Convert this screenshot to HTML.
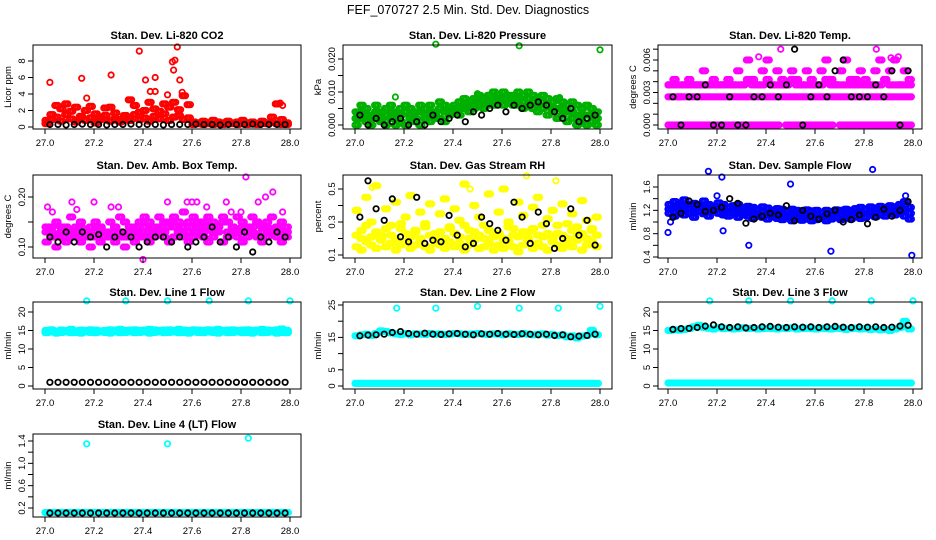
<!DOCTYPE html>
<html><head><meta charset="utf-8"><style>
body{margin:0;background:#fff;}
svg{display:block;font-family:"Liberation Sans",sans-serif;}
</style></head><body>
<svg id="chart" width="936" height="540" viewBox="0 0 936 540">
<text x="468" y="14" text-anchor="middle" font-size="12.5">FEF_070727  2.5 Min. Std. Dev. Diagnostics</text>
</svg>
<script>
// ---------- DATA ----------
const xTicks = [27.0, 27.2, 27.4, 27.6, 27.8, 28.0];
const xTickLabels = ["27.0","27.2","27.4","27.6","27.8","28.0"];
const panelTitles = ["Stan. Dev. Li-820 CO2","Stan. Dev. Li-820 Pressure","Stan. Dev. Li-820 Temp.","Stan. Dev. Amb. Box Temp.","Stan. Dev. Gas Stream RH","Stan. Dev. Sample Flow","Stan. Dev. Line 1 Flow","Stan. Dev. Line 2 Flow","Stan. Dev. Line 3 Flow","Stan. Dev. Line 4 (LT) Flow"];
const yTitles = ["Licor ppm","kPa","degrees C","degrees C","percent","ml/min","ml/min","ml/min","ml/min","ml/min"];

// CO2
const co2A = [0.8,1.5,2.6,2.2,2.8,1.9,2.4,1.2,2.0,2.5,1.6,1.1,2.3,2.4,1.7,0.9,1.4,3.3,2.6,1.8,2.0,3.0,2.2,1.9,2.8,2.4,3.0,2.1,3.8,2.7,0.6,0.5,0.7,0.4,0.8,0.6,0.5,0.7,0.4,0.6,0.8,0.5,0.6,0.4,0.7,0.5,1.2,2.8,0.9,0.5];
const co2B = [0.4,0.9,1.2,0.7,1.5,1.0,0.6,1.3,0.8,1.1,0.5,0.9,1.4,0.7,1.0,0.6,1.2,0.8,1.5,0.9,1.1,0.7,1.3,1.0,1.6,0.8,1.2,1.4,0.9,1.1,0.3,0.4,0.3,0.5,0.3,0.4,0.3,0.4,0.5,0.3,0.4,0.3,0.4,0.3,0.5,0.4,0.6,0.4,0.3,0.3];
const co2OutX = [27.02,27.15,27.17,27.27,27.385,27.41,27.45,27.5,27.52,27.525,27.53,27.54,27.55,27.56,27.45,27.43,27.96,27.97];
const co2OutY = [5.4,5.9,3.5,6.3,9.2,5.7,6.0,3.9,7.9,6.9,8.1,9.7,5.7,4.2,4.3,4.3,2.9,2.6];
const co2Blk = [0.3,0.3,0.25,0.3,0.35,0.3,0.3,0.25,0.3,0.3,0.35,0.3,0.3,0.3,0.25,0.3,0.3,0.3,0.35,0.3,0.3,0.25,0.3,0.3,0.3,0.35,0.3,0.3,0.3,0.3];

// Pressure
const presA = [0.004,0.006,0.005,0.003,0.006,0.004,0.005,0.006,0.004,0.005,0.006,0.005,0.004,0.006,0.005,0.006,0.004,0.007,0.006,0.005,0.006,0.007,0.008,0.007,0.008,0.009,0.008,0.009,0.010,0.009,0.010,0.009,0.009,0.010,0.009,0.010,0.009,0.008,0.009,0.008,0.007,0.008,0.007,0.006,0.007,0.006,0.005,0.006,0.005,0.004];
const presB = [0.000,0.002,0.001,0.000,0.002,0.001,0.000,0.002,0.000,0.001,0.000,0.002,0.001,0.000,0.002,0.001,0.003,0.002,0.001,0.003,0.004,0.003,0.005,0.004,0.005,0.006,0.005,0.006,0.006,0.007,0.006,0.007,0.006,0.006,0.005,0.006,0.005,0.004,0.005,0.003,0.004,0.002,0.003,0.001,0.002,0.000,0.001,0.000,0.001,0.000];
const presC = [0.002,0.004,0.003,0.002,0.004,0.002,0.003,0.004,0.002,0.003,0.004,0.003,0.002,0.004,0.003,0.004,0.002,0.005,0.004,0.004,0.005,0.005,0.006,0.006,0.007,0.007,0.007,0.008,0.008,0.008,0.008,0.008,0.008,0.008,0.007,0.008,0.007,0.006,0.007,0.006,0.005,0.005,0.005,0.004,0.004,0.003,0.003,0.003,0.003,0.002];
const presOutX = [27.165,27.33,27.5,27.67,27.835,28.0];
const presOutY = [0.0085,0.0245,0.0095,0.0240,0.0083,0.0228];
const presBlk = [0.003,0.0,0.002,0.0,0.001,0.002,0.0,0.001,0.0,0.003,0.001,0.002,0.003,0.001,0.004,0.003,0.005,0.006,0.004,0.006,0.005,0.006,0.007,0.006,0.004,0.002,0.005,0.001,0.002,0.003];

// Li-820 Temp
const tempA = [0.0026,0.0026,0.0026,0.0026,0.0026,0.0026,0.0026,0.0026,0.0026,0.0026,0.0026,0.0026,0.0026,0.0026,0.0026,0.0026,0.0026,0.0026,0.0026,0.0026,0.0026,0.0026,0.0026,0.0026,0.0026,0.0026,0.0026,0.0026,0.0026,0.0026,0.0026,0.0026,0.0026,0.0026,0.0026,0.0026,0.0026,0.0026,0.0026,0.0026,0.0026,0.0026,0.0026,0.0026,0.0026,0.0026,0.0026,0.0026,0.0026,0.0026];
const tempB = [0,0,0,0,0,0,0,0,0,0,0,0,0,0,0,0,0,0,0,0,0,0,0,0.0037,0,0,0,0,0,0,0,0,0,0,0.0037,0,0,0,0,0,0,0,0,0,0,0,0,0,0,0];
const tempC = [0.0037,0.0042,0.0037,0.0037,0.0042,0.0037,0.0037,0.005,0.0037,0.0042,0.0037,0.0037,0.0042,0.0037,0.005,0.0037,0.006,0.0042,0.0037,0.005,0.006,0.0037,0.005,0.0042,0.0037,0.005,0.0042,0.0037,0.005,0.0042,0.0037,0.005,0.006,0.0042,0.0037,0.005,0.006,0.0042,0.0037,0.005,0.0042,0.0037,0.005,0.006,0.0042,0.005,0.006,0.0037,0.005,0.0042];
const tempD = [0.0037,0.0037,0.0026,0.0037,0.0037,0.0037,0.0037,0.0037,0.0037,0.0037,0.0037,0.0037,0.0037,0.0037,0.0037,0.0037,0.0042,0.0037,0.0037,0.0037,0.0042,0.0037,0.0037,0.0037,0.0037,0.0042,0.0037,0.0037,0.0037,0.0037,0.0037,0.0037,0.0042,0.0037,0.0037,0.0037,0.0037,0.0037,0.0042,0.0037,0.0037,0.0037,0.0037,0.0037,0.0042,0.0037,0.0037,0.0037,0.0037,0.0037];
const tempOutX = [27.46,27.85,27.37,27.91,27.94];
const tempOutY = [0.0070,0.0070,0.0063,0.0062,0.0063];
const tempBlk = [0.0026,0,0.0026,0.0026,0.0037,0,0,0.0026,0,0,0.0026,0.0026,0.0037,0.0026,0.0037,0.0070,0,0.0026,0.0037,0.0026,0.0050,0.0060,0.0026,0.0026,0.0026,0.0037,0.0026,0.0050,0,0.0050];

// Amb Box Temp
const boxA = [0.14,0.13,0.15,0.14,0.13,0.16,0.14,0.15,0.13,0.14,0.15,0.14,0.13,0.15,0.14,0.16,0.15,0.14,0.13,0.15,0.16,0.15,0.14,0.16,0.15,0.14,0.16,0.15,0.17,0.15,0.16,0.14,0.15,0.16,0.15,0.14,0.16,0.15,0.14,0.16,0.15,0.14,0.16,0.15,0.14,0.15,0.16,0.14,0.15,0.14];
const boxB = [0.11,0.12,0.10,0.12,0.11,0.12,0.13,0.11,0.12,0.10,0.12,0.11,0.13,0.12,0.11,0.12,0.10,0.12,0.11,0.13,0.12,0.11,0.12,0.13,0.12,0.11,0.12,0.13,0.12,0.11,0.12,0.13,0.12,0.11,0.12,0.13,0.11,0.12,0.13,0.12,0.11,0.12,0.13,0.12,0.11,0.12,0.13,0.12,0.11,0.12];
const boxC = [0.13,0.14,0.12,0.13,0.14,0.13,0.12,0.14,0.13,0.12,0.13,0.14,0.12,0.13,0.14,0.13,0.12,0.13,0.14,0.12,0.14,0.13,0.13,0.14,0.13,0.15,0.14,0.13,0.14,0.13,0.14,0.15,0.13,0.14,0.13,0.14,0.15,0.13,0.14,0.13,0.14,0.13,0.14,0.15,0.13,0.14,0.13,0.14,0.13,0.13];
const boxOutX = [27.01,27.03,27.11,27.13,27.2,27.27,27.3,27.5,27.58,27.6,27.62,27.66,27.74,27.76,27.82,27.87,27.9,27.93,27.97,27.4,27.8];
const boxOutY = [0.18,0.17,0.19,0.175,0.19,0.18,0.18,0.19,0.19,0.19,0.19,0.18,0.19,0.17,0.24,0.19,0.2,0.21,0.17,0.075,0.17];
const boxBlk = [0.12,0.11,0.13,0.11,0.13,0.12,0.125,0.10,0.12,0.13,0.12,0.10,0.11,0.12,0.12,0.11,0.12,0.10,0.11,0.12,0.14,0.11,0.12,0.10,0.13,0.09,0.12,0.11,0.13,0.12];

// RH
const rhA = [0.15,0.13,0.18,0.16,0.14,0.19,0.15,0.17,0.13,0.16,0.18,0.14,0.16,0.19,0.15,0.13,0.17,0.16,0.14,0.18,0.15,0.17,0.13,0.16,0.19,0.14,0.15,0.17,0.13,0.16,0.14,0.18,0.15,0.12,0.16,0.19,0.14,0.17,0.15,0.13,0.18,0.16,0.14,0.17,0.15,0.19,0.13,0.16,0.18,0.15];
const rhB = [0.37,0.25,0.45,0.3,0.52,0.22,0.38,0.28,0.42,0.26,0.33,0.46,0.24,0.36,0.29,0.41,0.23,0.35,0.44,0.27,0.38,0.31,0.53,0.25,0.4,0.33,0.28,0.47,0.22,0.36,0.5,0.3,0.26,0.42,0.34,0.24,0.39,0.45,0.28,0.32,0.37,0.23,0.41,0.29,0.35,0.27,0.43,0.31,0.25,0.33];
const rhC = [0.22,0.2,0.28,0.21,0.24,0.2,0.26,0.22,0.2,0.29,0.23,0.21,0.25,0.2,0.27,0.22,0.21,0.24,0.2,0.26,0.23,0.21,0.28,0.2,0.24,0.22,0.2,0.25,0.21,0.23,0.2,0.27,0.22,0.21,0.24,0.2,0.26,0.22,0.21,0.23,0.2,0.28,0.22,0.2,0.25,0.21,0.23,0.2,0.26,0.22];
const rhOutX = [27.7,27.82,27.47,27.07];
const rhOutY = [0.58,0.55,0.5,0.51];
const rhBlk = [0.33,0.55,0.38,0.31,0.44,0.21,0.18,0.45,0.17,0.19,0.18,0.34,0.22,0.15,0.17,0.33,0.29,0.25,0.19,0.42,0.33,0.17,0.36,0.29,0.14,0.2,0.38,0.22,0.31,0.16];

// Sample Flow
const flowA = [1.3,1.35,1.25,1.38,1.3,1.32,1.28,1.36,1.3,1.27,1.33,1.3,1.25,1.28,1.3,1.24,1.27,1.25,1.22,1.26,1.24,1.2,1.23,1.22,1.19,1.22,1.2,1.18,1.21,1.19,1.2,1.17,1.2,1.18,1.21,1.2,1.22,1.2,1.23,1.25,1.22,1.26,1.24,1.27,1.25,1.28,1.26,1.3,1.35,1.25];
const flowB = [1.15,1.1,1.2,1.12,1.16,1.08,1.18,1.14,1.1,1.2,1.15,1.12,1.1,1.16,1.08,1.12,1.1,1.06,1.1,1.08,1.05,1.1,1.06,1.04,1.08,1.02,1.06,1.03,1.05,1.02,1.04,1.06,1.02,1.05,1.08,1.04,1.07,1.05,1.1,1.06,1.08,1.12,1.09,1.12,1.1,1.15,1.12,1.16,1.1,1.05];
const flowC = [1.22,1.24,1.3,1.26,1.22,1.2,1.25,1.28,1.2,1.24,1.22,1.2,1.18,1.22,1.2,1.18,1.17,1.16,1.15,1.17,1.14,1.15,1.13,1.14,1.12,1.13,1.12,1.1,1.12,1.11,1.12,1.1,1.12,1.11,1.14,1.12,1.14,1.12,1.16,1.15,1.15,1.18,1.16,1.2,1.18,1.22,1.2,1.24,1.22,1.15];
const flowOutX = [27.0,27.01,27.165,27.22,27.225,27.33,27.5,27.665,27.835,27.995,27.2,27.97];
const flowOutY = [0.82,1.0,1.87,1.77,0.85,0.6,1.65,0.5,1.9,0.43,1.45,1.45];
const flowBlk = [1.08,1.15,1.36,1.3,1.18,1.2,1.25,1.4,1.32,0.98,1.05,1.1,1.15,1.12,1.28,1.02,1.2,1.1,1.05,1.14,1.2,1.0,1.04,1.12,0.97,1.08,1.22,1.1,1.2,1.35];

// Line 1 Flow
const l1A = [15,15.2,14.8,15.1,15,15.3,14.9,15.1,15,15.2,15.1,14.9,15,15.2,15.1,15.3,15,15.1,15.2,15,15.1,15.3,15.2,15,15.1,15.2,15,15.3,15.1,15,15.2,15.1,15,15.2,15.1,15.3,15,15.1,15.2,15,15.1,15.2,15,15.1,15.3,15.1,15,15.2,15.4,15];
const l1B = [14.4,14.6,14.3,14.5,14.6,14.4,14.5,14.3,14.6,14.5,14.4,14.6,14.5,14.3,14.6,14.4,14.5,14.6,14.4,14.5,14.6,14.3,14.5,14.6,14.4,14.5,14.6,14.4,14.5,14.3,14.6,14.5,14.4,14.6,14.5,14.3,14.6,14.4,14.5,14.6,14.4,14.5,14.3,14.6,14.4,14.5,14.6,14.3,14.5,14.4];
const l1OutX = [27.17,27.33,27.5,27.67,27.83,28.0];
const l1OutY = [23,23,23,23,23,23];
const l1Blk = [1,1,1,1,1,1,1,1,1,1,1,1,1,1,1,1,1,1,1,1,1,1,1,1,1,1,1,1,1,1];

// Line 2 Flow
const l2A = [0.8,0.8,0.8,0.8,0.8,0.8,0.8,0.8,0.8,0.8,0.8,0.8,0.8,0.8,0.8,0.8,0.8,0.8,0.8,0.8,0.8,0.8,0.8,0.8,0.8,0.8,0.8,0.8,0.8,0.8,0.8,0.8,0.8,0.8,0.8,0.8,0.8,0.8,0.8,0.8,0.8,0.8,0.8,0.8,0.8,0.8,0.8,0.8,0.8,0.8];
const l2B = [15.5,15.8,16,15.6,16.2,17,16.8,16.4,16.1,15.9,16.2,15.8,16.1,16,15.9,16.2,16,16.1,15.9,16,16.2,16.1,15.9,16,16.1,16.2,16,15.9,16.1,16,15.8,16.1,16,15.9,16.2,16,15.8,16,16.1,15.7,15.9,15.6,15.8,15.2,15.5,14.8,15.4,15.6,17.2,15.8];
const l2OutX = [27.17,27.33,27.5,27.67,27.83,28.0];
const l2OutY = [24,24,24.6,24,24,24.6];
const l2Blk = [15.5,15.7,15.8,16,16.5,16.8,16.2,16,16.3,16,15.9,16.1,16.2,16,15.8,16.1,16,16.2,16,15.9,16.1,16,15.8,16,15.6,15.8,15.2,15.4,15.6,16];

// Line 3 Flow
const l3A = [0.8,0.8,0.8,0.8,0.8,0.8,0.8,0.8,0.8,0.8,0.8,0.8,0.8,0.8,0.8,0.8,0.8,0.8,0.8,0.8,0.8,0.8,0.8,0.8,0.8,0.8,0.8,0.8,0.8,0.8,0.8,0.8,0.8,0.8,0.8,0.8,0.8,0.8,0.8,0.8,0.8,0.8,0.8,0.8,0.8,0.8,0.8,0.8,0.8,0.8];
const l3B = [15,15.2,15.1,15.3,15.5,16,16.4,15.8,15.6,15.4,15.8,15.5,15.6,15.4,15.5,15.7,15.5,15.6,15.4,15.5,15.6,15.5,15.4,15.6,15.5,15.7,15.4,15.5,15.6,15.5,15.4,15.6,15.5,15.4,15.6,15.5,15.3,15.5,15.6,15.4,15.5,15.3,15.4,15.2,15.3,15,15.4,15.8,17.5,15.4];
const l3OutX = [27.17,27.33,27.5,27.67,27.83,28.0];
const l3OutY = [23,23,23,23,23,23];
const l3Blk = [15.3,15.5,15.6,15.8,16.2,16.5,16,15.8,16,15.7,15.8,16,16.1,15.9,15.8,16,15.9,16,15.8,16,16.1,15.9,15.8,16,15.9,16,15.8,15.9,16.2,16.4];

// Line 4 Flow
const l4A = [0.12,0.12,0.12,0.12,0.12,0.12,0.12,0.12,0.12,0.12,0.12,0.12,0.12,0.12,0.12,0.12,0.12,0.12,0.12,0.12,0.12,0.12,0.12,0.12,0.12,0.12,0.12,0.12,0.12,0.12,0.12,0.12,0.12,0.12,0.12,0.12,0.12,0.12,0.12,0.12,0.12,0.12,0.12,0.12,0.12,0.12,0.12,0.12,0.12,0.12];
const l4OutX = [27.17,27.5,27.83];
const l4OutY = [1.35,1.35,1.45];
const l4Blk = [0.11,0.11,0.11,0.11,0.11,0.11,0.11,0.11,0.11,0.11,0.11,0.11,0.11,0.11,0.11,0.11,0.11,0.11,0.11,0.11,0.11,0.11,0.11,0.11,0.11,0.11,0.11,0.11,0.11,0.11];

// y-axis ticks / labels
const yTicks = [[0,2,4,6,8],[0,0.005,0.01,0.015,0.02],[0,0.001,0.002,0.003,0.004,0.005,0.006,0.007],[0.1,0.15,0.2],[0.1,0.2,0.3,0.4,0.5],[0.4,0.6,0.8,1.0,1.2,1.4,1.6],[0,5,10,15,20],[0,5,10,15,20,25],[0,5,10,15,20],[0.2,0.4,0.6,0.8,1.0,1.2,1.4]];
const yTickLabels = [["0","2","4","6","8"],["0.000","","0.010","","0.020"],["0.000","","","0.003","","","0.006",""],["0.10","","0.20"],["0.1","","0.3","","0.5"],["0.4","","0.8","","1.2","","1.6"],["0","5","10","15","20"],["0","5","","15","","25"],["0","5","10","15","20"],["0.2","","0.6","","1.0","","1.4"]];

// ---------- LAYOUT (not data) ----------
const cols = [{l:33,r:301,x0:45,x1:290},{l:343,r:612,x0:355,x1:600},{l:658,r:922,x0:668,x1:913}];
const rows = [{t:45,b:129},{t:175,b:258},{t:302,b:389},{t:434,b:517}];
const yCal = [[0,127,8,61],[0,125,0.02,59],[0,125,0.006,60],[0.1,247,0.2,197],[0.1,255,0.5,189],[0.4,257,1.6,187],[0,386,20,312],[0,386,25,305],[0,386,20,312],[0.2,508,1.4,441]];

const panels = [
 {series:[[co2A,'red'],[co2B,'red']], outX:co2OutX, outY:co2OutY, outC:'red', blk:co2Blk},
 {series:[[presA,'#00b000'],[presB,'#00b000'],[presC,'#00b000']], outX:presOutX, outY:presOutY, outC:'#00b000', blk:presBlk},
 {series:[[tempA,'magenta'],[tempB,'magenta'],[tempC,'magenta'],[tempD,'magenta']], outX:tempOutX, outY:tempOutY, outC:'magenta', blk:tempBlk},
 {series:[[boxA,'magenta'],[boxB,'magenta'],[boxC,'magenta']], outX:boxOutX, outY:boxOutY, outC:'magenta', blk:boxBlk},
 {series:[[rhA,'yellow'],[rhB,'yellow'],[rhC,'yellow']], outX:rhOutX, outY:rhOutY, outC:'yellow', blk:rhBlk},
 {series:[[flowA,'blue'],[flowB,'blue'],[flowC,'blue']], outX:flowOutX, outY:flowOutY, outC:'blue', blk:flowBlk},
 {series:[[l1A,'cyan'],[l1B,'cyan']], outX:l1OutX, outY:l1OutY, outC:'cyan', blk:l1Blk},
 {series:[[l2A,'cyan'],[l2B,'cyan']], outX:l2OutX, outY:l2OutY, outC:'cyan', blk:l2Blk},
 {series:[[l3A,'cyan'],[l3B,'cyan']], outX:l3OutX, outY:l3OutY, outC:'cyan', blk:l3Blk},
 {series:[[l4A,'cyan']], outX:l4OutX, outY:l4OutY, outC:'cyan', blk:l4Blk}
];

const NS = 'http://www.w3.org/2000/svg';
const svg = document.getElementById('chart');
function mk(tag, attrs, parent){
  const e = document.createElementNS(NS, tag);
  for (const k in attrs) e.setAttribute(k, attrs[k]);
  (parent||svg).appendChild(e);
  return e;
}
function circ(g, cx, cy, color){
  const c = mk('circle', {cx:cx.toFixed(1), cy:cy.toFixed(1), r:2.7, fill:'none', stroke:color, 'stroke-width':1.8}, g);
  
  
}

panels.forEach((p, i) => {
  const col = cols[i % 3], row = rows[Math.floor(i / 3)];
  const cal = yCal[i];
  const xs = v => col.x0 + (v - 27) * (col.x1 - col.x0);
  const ys = v => cal[1] + (v - cal[0]) * (cal[3] - cal[1]) / (cal[2] - cal[0]);
  const g = mk('g', {});
  
  

  const title = mk('text', {x:(col.l + col.r) / 2, y:row.t - 6, 'text-anchor':'middle', 'font-size':11, 'font-weight':'bold'}, g);
  title.textContent = panelTitles[i];
  
  

  const pts = mk('g', {}, g);
  
  
  p.series.forEach(([arr, color]) => {
    const n = arr.length;
    const step = 1 / n;
    arr.forEach((v, k) => {
      for (let s = 0; s < 3; s++) {
        circ(pts, xs(27 + step * (k + s / 3)), ys(v), color);
      }
    });
  });
  p.outX.forEach((x, k) => circ(pts, xs(x), ys(p.outY[k]), p.outC));
  p.blk.forEach((v, k) => circ(pts, xs(27.02 + 0.96 * k / (p.blk.length - 1)), ys(v), '#000'));

  const box = mk('rect', {x:col.l, y:row.t, width:col.r - col.l, height:row.b - row.t, fill:'none', stroke:'#000', 'stroke-width':1}, g);
  
  

  const xa = mk('g', {}, g);
  
  
  mk('line', {x1:xs(xTicks[0]), x2:xs(xTicks[xTicks.length - 1]), y1:row.b, y2:row.b, stroke:'#000'}, xa);
  xTicks.forEach((t, k) => {
    mk('line', {x1:xs(t), x2:xs(t), y1:row.b, y2:row.b + 5, stroke:'#000'}, xa);
    const tl = mk('text', {x:xs(t), y:row.b + 17, 'text-anchor':'middle', 'font-size':9.5}, xa);
    tl.textContent = xTickLabels[k];
    
    
  });

  const ya = mk('g', {}, g);
  
  
  const yt = yTicks[i];
  mk('line', {x1:col.l, x2:col.l, y1:ys(yt[0]), y2:ys(yt[yt.length - 1]), stroke:'#000'}, ya);
  yt.forEach((t, k) => {
    mk('line', {x1:col.l - 5, x2:col.l, y1:ys(t), y2:ys(t), stroke:'#000'}, ya);
    const lab = yTickLabels[i][k];
    if (lab) {
      const tl = mk('text', {x:0, y:0, 'text-anchor':'middle', 'font-size':9.5, transform:`translate(${col.l - 8},${ys(t)}) rotate(-90)`}, ya);
      tl.textContent = lab;
      
      
    }
  });
  const yl = mk('text', {x:0, y:0, 'text-anchor':'middle', 'font-size':9.5, transform:`translate(${col.l - 22},${(row.t + row.b) / 2}) rotate(-90)`}, ya);
  yl.textContent = yTitles[i];
  
  
});
</script>
</body></html>
